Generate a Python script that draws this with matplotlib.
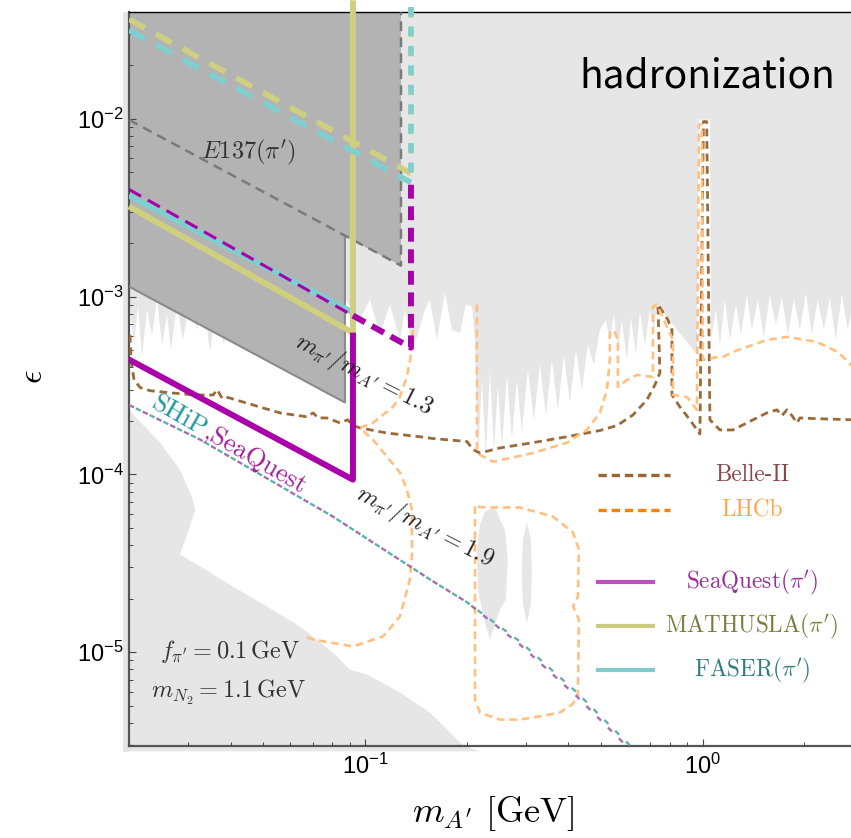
import matplotlib
matplotlib.use("Agg")
import matplotlib.pyplot as plt
from matplotlib.patches import Rectangle

plt.rcParams['font.family'] = ['Liberation Sans', 'DejaVu Sans']
plt.rcParams['mathtext.fontset'] = 'cm'
plt.rcParams['lines.scale_dashes'] = False

# axis ranges
m_lim = (0.02, 2.75)
eps_lim = (2.98e-6, 0.0398)

# lower edge of the light grey "hadronization" region
had_m = [0.0200, 0.0207, 0.02127, 0.02185, 0.02261, 0.0234, 0.02421, 0.02505, 0.02592, 0.02663,
         0.02774, 0.0289, 0.03032, 0.0318, 0.03335, 0.03474, 0.0362, 0.0382, 0.0404, 0.056,
         0.0872, 0.0966, 0.1034, 0.1107, 0.1185, 0.1269, 0.1313, 0.1377, 0.1425, 0.1506,
         0.1556, 0.1632, 0.1725, 0.181, 0.1911, 0.199, 0.2075, 0.2117,
         0.2160, 0.2219, 0.2281, 0.2344, 0.2409, 0.2475, 0.2544, 0.2632, 0.2723, 0.2818,
         0.2915, 0.3037, 0.3164, 0.3296, 0.3433, 0.3577, 0.3726, 0.3882, 0.4044, 0.4213,
         0.4389, 0.4572, 0.4763, 0.4962, 0.5169,
         0.5311, 0.5458, 0.5610, 0.5765, 0.5967, 0.6132, 0.6344, 0.6519, 0.6746, 0.6981,
         0.7172, 0.7319, 0.800, 0.8562, 0.9166, 0.9616, 0.9749, 1.0507, 1.0579,
         1.0946, 1.1246, 1.1636, 1.204, 1.2547, 1.298, 1.3523, 1.399, 1.4576, 1.5184,
         1.5809, 1.6469, 1.7172, 1.7884, 1.8634, 1.9409, 2.022, 2.1063, 2.1925, 2.2844,
         2.3796, 2.4789, 2.5825, 2.6903, 2.8]
had_eps = [9.6e-4, 5.35e-4, 9.0e-4, 4.58e-4, 8.47e-4, 6.1e-4, 9.64e-4, 5.35e-4, 7.94e-4, 5.02e-4,
           9.04e-4, 5.71e-4, 9.64e-4, 6.5e-4, 9.04e-4, 4.89e-4, 8.47e-4, 5.35e-4, 9.64e-4, 6.5e-4,
           9.64e-4, 7.4e-4, 9.64e-4, 6.1e-4, 9.04e-4, 5.71e-4, 8.47e-4, 5.35e-4, 5.94e-4, 8.47e-4,
           9.64e-4, 5.71e-4, 1.054e-3, 6.5e-4, 6.26e-4, 9.04e-4, 8.81e-4, 5.71e-4,
           1.21e-4, 3.40e-4, 1.29e-4, 3.89e-4, 1.346e-4, 3.19e-4, 1.436e-4, 3.63e-4, 1.57e-4, 3.40e-4,
           1.74e-4, 3.89e-4, 2.03e-4, 4.15e-4, 2.16e-4, 4.41e-4, 2.31e-4, 4.71e-4, 2.54e-4, 5.02e-4,
           2.99e-4, 5.35e-4, 4.15e-4, 6.5e-4, 7.4e-4,
           5.71e-4, 7.94e-4, 5.02e-4, 7.4e-4, 4.41e-4, 7.63e-4, 4.71e-4, 8.25e-4, 5.35e-4, 8.47e-4,
           6.5e-4, 9.04e-4, 7.34e-4, 6.2e-4, 5.31e-4, 4.71e-4, 9.91e-3, 9.91e-3, 5.71e-4,
           8.47e-4, 5.35e-4, 9.64e-4, 5.71e-4, 9.04e-4, 6.1e-4, 1.028e-3, 6.5e-4, 9.64e-4, 5.9e-4,
           1.028e-3, 6.97e-4, 9.89e-4, 6.1e-4, 9.64e-4, 6.5e-4, 1.054e-3, 6.1e-4, 9.64e-4, 6.5e-4,
           9.89e-4, 5.71e-4, 1.028e-3, 6.5e-4, 9.64e-4]

# grey islands inside the LHCb loop
blob1_m = [0.2265, 0.2426, 0.2509, 0.2596, 0.2649, 0.2613, 0.2509, 0.2426, 0.2344, 0.2250, 0.2160, 0.2145, 0.2189]
blob1_eps = [6.18e-5, 6.61e-5, 5.58e-5, 4.9e-5, 3.32e-5, 1.98e-5, 1.74e-5, 1.43e-5, 1.18e-5, 1.53e-5, 2.25e-5, 3.78e-5, 5.23e-5]
blob2_m = [0.3016, 0.3099, 0.312, 0.3099, 0.3016, 0.2935, 0.2915, 0.2935]
blob2_eps = [5.37e-5, 4.31e-5, 2.81e-5, 1.856e-5, 1.47e-5, 1.856e-5, 2.81e-5, 4.31e-5]

# light grey region at bottom left
low_m = [0.0192, 0.02, 0.0247, 0.0283, 0.0307, 0.0314, 0.0299, 0.0283, 0.0325, 0.0406, 0.0512,
         0.0642, 0.0803, 0.0901, 0.1014, 0.1269, 0.1556, 0.195, 0.2189, 0.0192]
low_eps = [2.31e-4, 2.31e-4, 1.51e-4, 1.066e-4, 7.51e-5, 6.35e-5, 4.72e-5, 3.55e-5, 3.04e-5, 2.34e-5, 1.81e-5,
           1.395e-5, 1.0e-5, 8.0e-6, 7.49e-6, 5.94e-6, 4.58e-6, 3.0e-6, 2.77e-6, 2.77e-6]

# dark grey excluded region and E137(pi') boundary
excl_m = [0.02, 0.1278, 0.1278, 0.0872, 0.0872, 0.02]
excl_eps = [0.0398, 0.0398, 1.496e-3, 2.18e-3, 2.54e-4, 1.14e-3]
excl_edge_m = [0.02, 0.0872, 0.0872]
excl_edge_eps = [1.14e-3, 2.54e-4, 2.18e-3]
e137_m = [0.02, 0.1278, 0.1278]
e137_eps = [9.88e-3, 1.496e-3, 0.0398]

# pi' reach lines
seaq_m = [0.02, 0.0921, 0.0921]
seaq_eps = [4.43e-4, 9.35e-5, 6.04e-4]
seaq_thin_m = [0.02, 0.0921]
seaq_thin_eps = [4.01e-3, 7.83e-4]
seaq_thick_m = [0.0921, 0.1368, 0.1368]
seaq_thick_eps = [7.83e-4, 5.17e-4, 4.27e-3]
faser_m = [0.02, 0.0921]
faser_eps = [3.71e-3, 8.14e-4]
faser_dash_m = [0.02, 0.1368, 0.1368]
faser_dash_eps = [0.03148, 4.395e-3, 0.0465]
mathusla_m = [0.02, 0.0921, 0.0921]
mathusla_eps = [3.22e-3, 6.26e-4, 0.0465]
mathusla_dash_m = [0.02, 0.1368, 0.1368]
mathusla_dash_eps = [0.03633, 4.945e-3, 0.0465]

# Belle-II
belle_m = [0.02014, 0.02028, 0.0207, 0.0216, 0.0231, 0.0265, 0.0314, 0.0355, 0.0365, 0.0378,
           0.0393, 0.0466, 0.056, 0.0673, 0.0702, 0.0726, 0.0771, 0.0843, 0.0889, 0.0921,
           0.0966, 0.1161, 0.1456, 0.1589, 0.2004, 0.2089, 0.2189, 0.2509, 0.3142, 0.3963,
           0.4962, 0.5572, 0.6215, 0.6839, 0.722, 0.7471, 0.737, 0.7892, 0.811, 0.811,
           0.8562, 0.9166, 0.9815, 1.005, 1.028, 1.0507, 1.1246, 1.2291, 1.5488, 1.6596,
           1.7172, 1.7763, 1.838, 1.9011, 1.9409, 2.1777, 2.8]
belle_eps = [6.1e-4, 4.41e-4, 3.40e-4, 3.08e-4, 2.96e-4, 2.88e-4, 2.80e-4, 2.80e-4, 3.0e-4, 2.67e-4,
             2.71e-4, 2.46e-4, 2.22e-4, 2.11e-4, 2.22e-4, 2.08e-4, 2.08e-4, 1.95e-4, 2.03e-4, 1.884e-4,
             1.83e-4, 1.71e-4, 1.63e-4, 1.593e-4, 1.532e-4, 1.38e-4, 1.32e-4, 1.41e-4, 1.51e-4, 1.63e-4,
             1.767e-4, 1.884e-4, 2.16e-4, 2.63e-4, 3.19e-4, 3.73e-4, 9.04e-4, 7.4e-4, 6.5e-4, 2.8e-4,
             2.4e-4, 2.03e-4, 1.69e-4, 9.66e-3, 9.66e-3, 2.03e-4, 1.78e-4, 1.78e-4, 2.22e-4, 2.31e-4,
             2.145e-4, 2.31e-4, 2.145e-4, 1.95e-4, 2.08e-4, 2.06e-4, 2.03e-4]

# LHCb (three pieces)
lhcb1_m = [0.1386, 0.1368, 0.133, 0.1269, 0.121, 0.1055, 0.0966, 0.1055, 0.1161, 0.1269,
           0.133, 0.1377, 0.1377, 0.1358, 0.1269, 0.113, 0.0921, 0.0702, 0.0665]
lhcb1_eps = [6.5e-4, 4.71e-4, 3.54e-4, 2.73e-4, 2.4e-4, 1.95e-4, 1.83e-4, 1.57e-4, 1.26e-4, 1.025e-4,
             8.23e-5, 6.35e-5, 3.46e-5, 2.57e-5, 1.59e-5, 1.227e-5, 1.077e-5, 1.179e-5, 1.227e-5]
lhcb2_m = [0.2145, 0.2145, 0.2189, 0.2393, 0.3142, 0.3963, 0.4539, 0.4962, 0.5204, 0.5311,
           0.5311, 0.5458, 0.561, 0.561, 0.5967, 0.6387, 0.7123, 0.7123, 0.7319, 0.8166,
           0.8166, 0.8981, 0.9616, 0.9749, 0.9949, 1.0017, 1.0872, 1.1482, 1.2291, 1.5488,
           1.7763, 2.1777, 2.5129, 2.8]
lhcb2_eps = [9.04e-4, 1.38e-4, 1.29e-4, 1.18e-4, 1.32e-4, 1.51e-4, 1.78e-4, 2.22e-4, 2.99e-4, 4.41e-4,
             6.26e-4, 6.5e-4, 5.71e-4, 3.11e-4, 3.40e-4, 3.63e-4, 3.54e-4, 8.81e-4, 9.04e-4, 5.71e-4,
             2.8e-4, 2.73e-4, 2.31e-4, 9.29e-3, 9.29e-3, 4.41e-4, 4.55e-4, 4.58e-4, 4.89e-4, 5.71e-4,
             5.94e-4, 5.57e-4, 4.89e-4, 4.0e-4]
lhcb3_m = [0.2117, 0.2117, 0.2189, 0.2509, 0.2877, 0.341, 0.3778, 0.4102, 0.4271, 0.43,
           0.413, 0.4271, 0.43, 0.413, 0.3601, 0.2877, 0.2296, 0.2117]
lhcb3_eps = [6.61e-5, 5.42e-6, 4.58e-6, 4.18e-6, 4.18e-6, 4.41e-6, 4.58e-6, 5.08e-6, 5.64e-6, 1.53e-5,
             1.81e-5, 2.06e-5, 3.78e-5, 4.72e-5, 5.8e-5, 6.52e-5, 6.52e-5, 6.61e-5]

# SHiP and SeaQuest (dark photon) reach
ship_m = [0.02, 0.0325, 0.0803, 0.1358, 0.1556, 0.2004, 0.2877, 0.4241, 0.609]
ship_eps = [2.46e-4, 1.57e-4, 5.8e-5, 3.04e-5, 2.57e-5, 1.91e-5, 1.149e-5, 5.94e-6, 2.99e-6]
sq_eps = [2.46e-4, 1.57e-4, 5.8e-5, 3.04e-5, 2.57e-5, 1.91e-5, 1.105e-5, 5.64e-6, 2.84e-6]

# legend
leg_labels = ['Belle-II', 'LHCb', r'$\mathrm{SeaQuest}(\pi^\prime)$',
              r'$\mathrm{MATHUSLA}(\pi^\prime)$', r'$\mathrm{FASER}(\pi^\prime)$']
leg_text_colors = ['#8b4747', '#ffa64d', '#9b2d9b', '#7d7d3a', '#2d7f7f']
leg_line_colors = ['#9a6433', '#ff8000', '#c050c0', '#cccc80', '#80cccc']

c_light = '#e6e6e6'
c_dark = '#b3b3b3'
c_mag = '#aa00aa'
c_cyan = '#80cfcf'
c_yel = '#cfcf80'
c_belle = '#9a6a38'
c_lhcb = '#ffc080'

fig = plt.figure(figsize=(8.51, 8.38), dpi=100)
ax = fig.add_axes([129 / 851, 1 - 745.7 / 838, 722 / 851, 733.4 / 838])
ax.set_xscale('log')
ax.set_yscale('log')
ax.set_xlim(*m_lim)
ax.set_ylim(*eps_lim)
ax.set_axisbelow(False)

# shaded regions
ax.add_patch(Rectangle((-0.0083, -0.0082), 0.0083, 1.0082, transform=ax.transAxes,
                       facecolor=c_light, edgecolor='none', clip_on=False, zorder=0.5))
ax.fill(had_m + [2.8, 0.02], had_eps + [0.05, 0.05], color=c_light, lw=0, zorder=1)
ax.fill(blob1_m, blob1_eps, color=c_light, lw=0, zorder=1)
ax.fill(blob2_m, blob2_eps, color=c_light, lw=0, zorder=1)
ax.fill(low_m, low_eps, color=c_light, lw=0, zorder=1, clip_on=False)
ax.fill(excl_m, excl_eps, color=c_dark, lw=0, zorder=2)
ax.plot(excl_edge_m, excl_edge_eps, color='#8a8a8a', lw=1.5, zorder=3)
ax.plot(e137_m, e137_eps, color='#7a7a7a', lw=1.8, ls=(0, (7, 4.5)), zorder=3)

# dark photon curves
ax.plot(belle_m, belle_eps, color=c_belle, lw=2.0, ls=(0, (5.5, 3.5)), zorder=4)
for lm, le in [(lhcb1_m, lhcb1_eps), (lhcb2_m, lhcb2_eps), (lhcb3_m, lhcb3_eps)]:
    ax.plot(lm, le, color=c_lhcb, lw=1.9, ls=(0, (5.5, 3.5)), zorder=4)
ax.plot(ship_m, sq_eps, color='#a070b0', lw=1.7, ls=(0, (4, 7)), zorder=4)
ax.plot(ship_m, ship_eps, color='#60b0b0', lw=1.7, ls=(5.5, (4, 7)), zorder=4)

# pi' curves
ax.plot(faser_m, faser_eps, color=c_cyan, lw=4.3, zorder=5, solid_capstyle='butt')
ax.plot(mathusla_m, mathusla_eps, color=c_yel, lw=4.3, zorder=5, clip_on=False,
        solid_capstyle='butt')
ax.plot(faser_dash_m[:2], faser_dash_eps[:2], color=c_cyan, lw=4.0, ls=(0, (13, 9)), zorder=5)
ax.plot(mathusla_dash_m[:2], mathusla_dash_eps[:2], color=c_yel, lw=4.0, ls=(0, (13, 9)), zorder=5)
ax.plot(seaq_thick_m, seaq_thick_eps, color=c_mag, lw=4.3, ls=(0, (10, 5.5)), zorder=5)
ax.plot(mathusla_dash_m[1:], mathusla_dash_eps[1:], color=c_yel, lw=4.0, ls=(0, (7, 7)),
        zorder=5, clip_on=False)
ax.plot(faser_dash_m[1:], faser_dash_eps[1:], color=c_cyan, lw=4.0, ls=(7, (7, 7)),
        zorder=5, clip_on=False)
ax.plot(seaq_thin_m, seaq_thin_eps, color=c_mag, lw=2.2, ls=(0, (10, 5.5)), zorder=5)
ax.plot(seaq_m, seaq_eps, color=c_mag, lw=4.3, zorder=6)

# annotations
T = ax.transAxes
ax.text(0.8006, 0.898, 'hadronization', transform=T, ha='center', va='baseline', fontsize=28,
        family=['Noto Sans CJK JP', 'DejaVu Sans'], zorder=7)
ax.text(0.1648, 0.8095, r'$E137(\pi^\prime)$', transform=T, ha='center', va='center',
        fontsize=17.5, color='#333333', zorder=7)
ax.text(0.3255, 0.5055, r'$m_{\pi^\prime}/m_{A^\prime}=1.3$', transform=T, ha='center', va='center',
        fontsize=17.5, rotation=-27, rotation_mode='anchor', color='#222222', zorder=7)
ax.text(0.41, 0.2982, r'$m_{\pi^\prime}/m_{A^\prime}=1.9$', transform=T, ha='center', va='center',
        fontsize=17.5, rotation=-27, rotation_mode='anchor', color='#222222', zorder=7)
ax.text(0.0291, 0.4605, 'SHiP', transform=T, ha='left', va='baseline', fontsize=19,
        family='cmr10', rotation=-30, rotation_mode='anchor', color='#1f9a9a', zorder=7)
ax.text(0.1011, 0.4196, ',SeaQuest', transform=T, ha='left', va='baseline', fontsize=19,
        family='cmr10', rotation=-30, rotation_mode='anchor', color='#a0209a', zorder=7)
ax.text(0.1399, 0.1278, r'$f_{\pi^\prime}=0.1\,\mathrm{GeV}$', transform=T, ha='center',
        va='center', fontsize=17.5, color='#333333', zorder=7)
ax.text(0.1385, 0.0732, r'$m_{N_2}=1.1\,\mathrm{GeV}$', transform=T, ha='center',
        va='center', fontsize=17.5, color='#333333', zorder=7)

# legend drawn by hand
leg_y = [0.3691, 0.3214, 0.2232, 0.1632, 0.1032]
for i, (lab, tc, lc) in enumerate(zip(leg_labels, leg_text_colors, leg_line_colors)):
    if i < 2:
        ax.plot([0.6496, 0.7493], [leg_y[i]] * 2, transform=T, color=lc, lw=2.4,
                ls=(0, (6, 3.5)), zorder=7)
        fam = 'cmr10'
    else:
        ax.plot([0.6496, 0.7258], [leg_y[i]] * 2, transform=T, color=lc, lw=3.0, zorder=7)
        fam = None
    ax.text(0.8629, leg_y[i], lab, transform=T, ha='center', va='center', fontsize=16.7,
            color=tc, family=fam, zorder=7)

# axes styling
for s in ['left', 'bottom']:
    ax.spines[s].set_color('#555555')
    ax.spines[s].set_linewidth(1.6)
ax.spines['top'].set_color('black')
ax.spines['top'].set_linewidth(1.0)
ax.spines['right'].set_visible(False)
ax.tick_params(which='both', direction='in', top=False, right=False, color='#444444')
ax.tick_params(which='major', length=5, width=0.8, labelsize=17)
ax.tick_params(which='minor', length=3.2, width=0.7)
ax.tick_params(axis='y', pad=4)
ax.tick_params(axis='x', pad=6)

fig.text(493 / 851, 1 - 822 / 838, r'$m_{A^\prime}\ [\mathrm{GeV}]$', ha='center', va='baseline',
         fontsize=26)
fig.text(34 / 851, 1 - 377 / 838, r'$\epsilon$', ha='center', va='center', rotation=90, fontsize=24)

fig.savefig('out.png', dpi=100)
